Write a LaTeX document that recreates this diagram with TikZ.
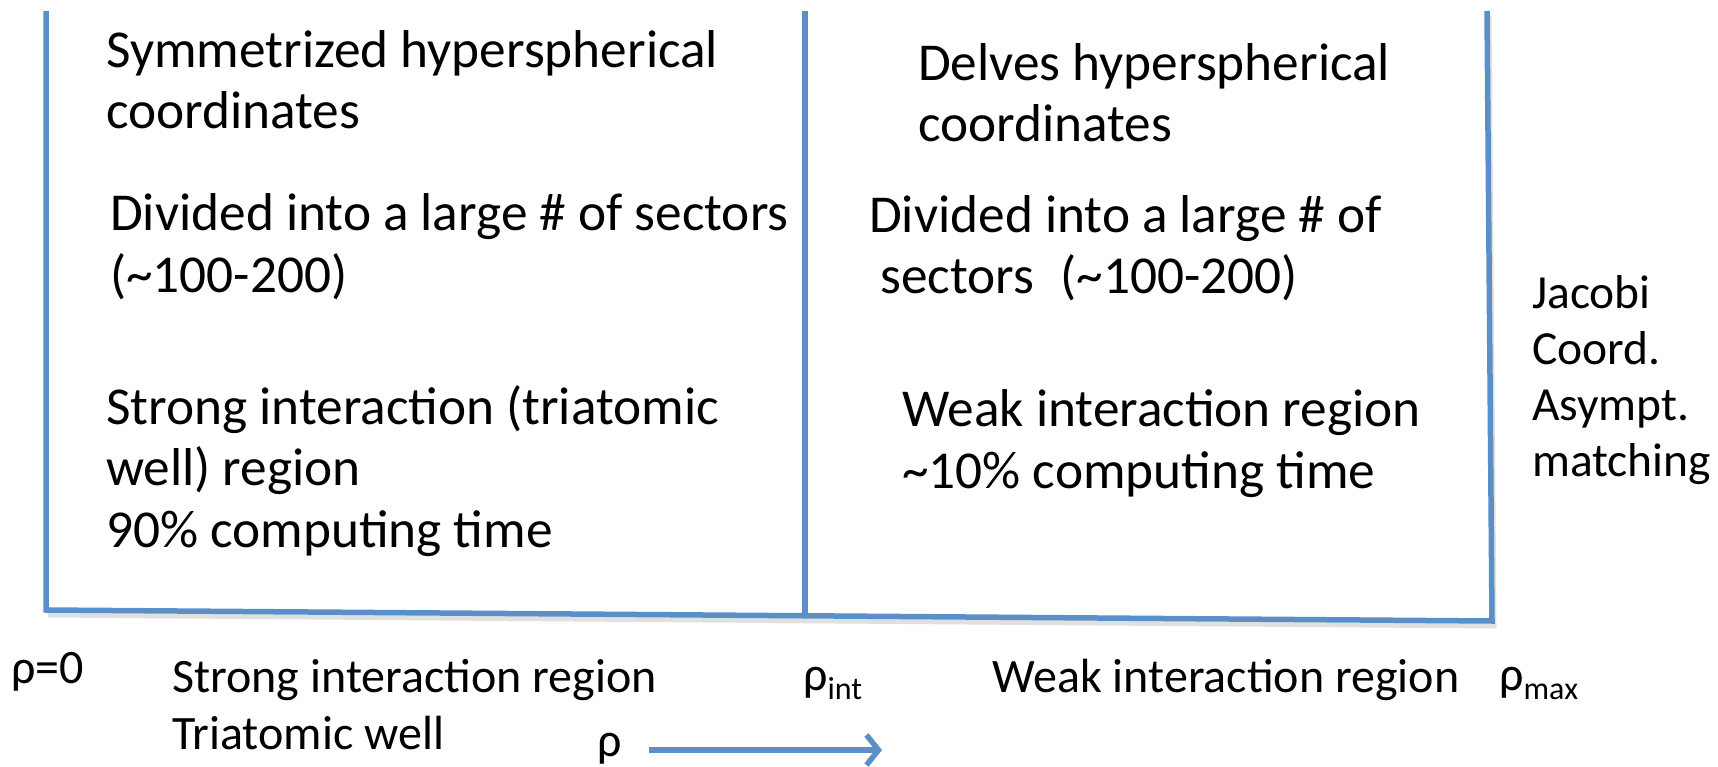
\documentclass[tikz,border=0pt]{standalone}
\usepackage{fontspec}
\setmainfont{Carlito}
\usetikzlibrary{arrows.meta}
\definecolor{lineblue}{RGB}{91,143,200}
\begin{document}
\begin{tikzpicture}[x=1pt,y=-1pt,
  frame/.style={draw=lineblue,line width=5.5pt},
  shadowline/.style={draw=black,opacity=0.12,line width=5pt},
  body/.style={anchor=base west,inner sep=0pt,align=left,font=\fontsize{53.3}{61.5}\selectfont},
  side/.style={anchor=base west,inner sep=0pt,align=left,font=\fontsize{47.5}{56}\selectfont},
  axis/.style={anchor=base west,inner sep=0pt,align=left,font=\fontsize{48}{57}\selectfont}]
\useasboundingbox (0,0) rectangle (1718,767);

% corners of the two regions
\coordinate (tl) at (46,11);
\coordinate (bl) at (46,610);
\coordinate (tm) at (805,11);
\coordinate (bm) at (805,615);
\coordinate (tr) at (1487,11);
\coordinate (br) at (1492,621);

% soft drop shadow
\draw[shadowline] ([shift={(2,5)}]bl) -- ([shift={(2,5)}]br) -- ([shift={(2,5)}]tr);

% region borders
\draw[frame] (tl) -- (bl) -- (br) -- (tr);
\draw[frame] (tm) -- (bm);

% inner region texts (anchored at the baseline of the last line)
\node[body] (symm) at (106,129) {Symmetrized hyperspherical\\coordinates};
\node[body] (divl) at (110,292) {Divided into a large \# of sectors\\(\textasciitilde100-200)};
\node[body] (strong) at (106,547) {Strong interaction (triatomic\\well) region\\90\% computing time};

% outer region texts
\node[body] (delves) at (918,142) {Delves hyperspherical\\coordinates};
\node[body] (divr) at (869,294) {Divided into a large \# of\\\hspace*{11pt}sectors\hspace{0.5em}(\textasciitilde100-200)};
\node[body] (weak) at (902,488) {Weak interaction region\\\textasciitilde10\% computing time};

% asymptotic part
\node[side] (jacobi) at (1532,476) {Jacobi\\Coord.\\Asympt.\\matching};

% hyperradius axis labels
\node[axis] (rho0) at (11,683) {ρ=0};
\node[axis] (sreg) at (172,749) {Strong interaction region\\Triatomic well};
\node[axis] (rhoint) at (803,690) {ρ\raisebox{-9pt}{\fontsize{32}{32}\selectfont int}};
\node[axis] (wreg) at (992,692) {Weak interaction region};
\node[axis] (rhomax) at (1499,690) {ρ\raisebox{-9pt}{\fontsize{32}{32}\selectfont max}};
\node[axis] (rho) at (597,756) {ρ};

\coordinate (arrA) at (649,750);
\coordinate (arrB) at (882,750);
\draw[frame,-{Straight Barb[length=12pt,width=30pt]}] (arrA) -- (arrB);
\end{tikzpicture}
\end{document}
